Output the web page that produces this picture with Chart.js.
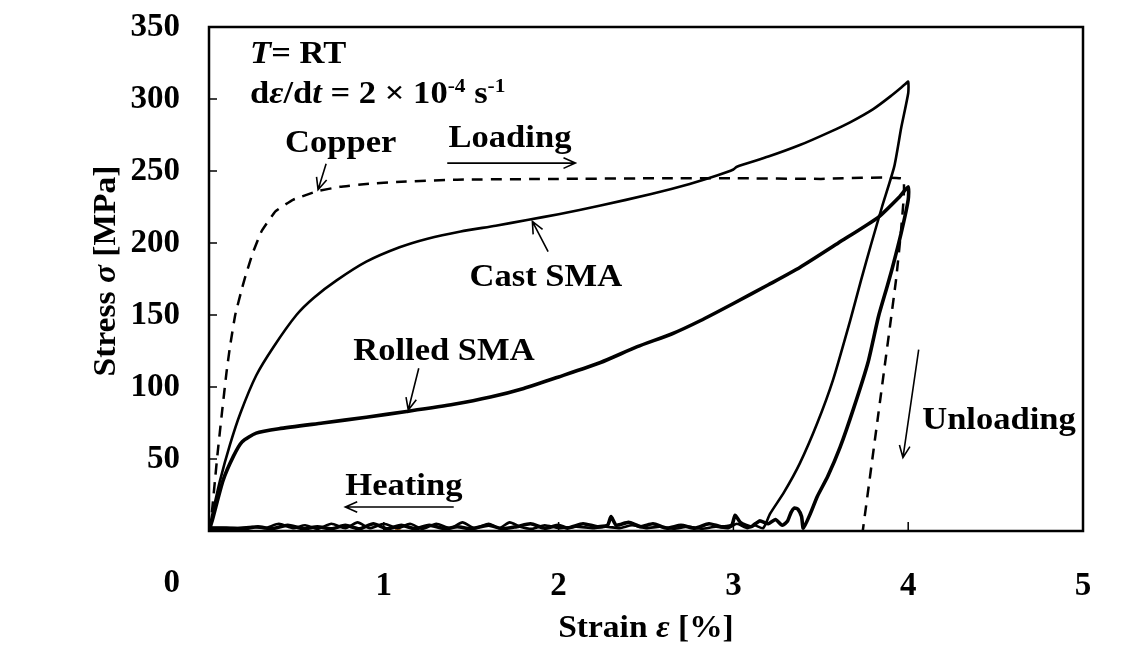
<!DOCTYPE html>
<html>
<head>
<meta charset="utf-8">
<script src="https://cdn.jsdelivr.net/npm/chart.js@4.4.1/dist/chart.umd.min.js"></script>
<style>
  body { margin: 0; background: #fff; }
  #wrap { width: 1140px; height: 647px; }
</style>
</head>
<body>
<div id="wrap"><canvas id="chart" width="1140" height="647"></canvas></div>
<script>
// Axis ticks
const strainTicks = [0, 1, 2, 3, 4, 5];
const stressTicks = [0, 50, 100, 150, 200, 250, 300, 350];

// Copper (dashed): loading then unloading
const copperStrain = [0, 0.01, 0.034, 0.05, 0.074, 0.1, 0.12, 0.15, 0.19, 0.206, 0.25, 0.30, 0.38, 0.48, 0.62, 0.75, 0.9, 1.1, 1.42, 2.0, 2.6, 3.0, 3.5, 3.97, 3.96, 3.93, 3.83, 3.74];
const copperStress = [0, 5, 35, 55, 82, 110, 128, 150, 169, 176, 193, 208, 222, 230, 236, 239, 241, 242.5, 244, 244.5, 245, 245, 244.5, 244.5, 210, 174, 82, 0];

// Cast SMA: loading, unloading, heating back to zero strain
const castStrain = [0, 0.02, 0.063, 0.12, 0.18, 0.27, 0.37, 0.5, 0.6, 0.73, 0.9, 1.09, 1.25, 1.44, 1.64, 1.82, 2.0, 2.24, 2.53, 2.75, 2.91, 3.0, 3.02, 3.2, 3.38, 3.55, 3.67, 3.8, 3.9, 3.98, 4.0,
  4.0, 3.96, 3.92, 3.85, 3.79, 3.73, 3.67, 3.57, 3.48, 3.38, 3.29, 3.21, 3.17,
  3.12, 3.08, 3.02, 2.97, 2.9, 2.82, 2.74, 2.66, 2.58, 2.5, 2.42, 2.35, 2.27, 2.2, 2.1, 2.0, 1.92, 1.85, 1.78, 1.72, 1.66, 1.6, 1.52, 1.45, 1.38, 1.3, 1.22, 1.15, 1.08, 1.0, 0.92, 0.85, 0.78, 0.7, 0.62, 0.55, 0.48, 0.4, 0.32, 0.25, 0.15, 0.05, 0];
const castStress = [0, 12, 35, 60, 82, 108, 128, 150, 162, 174, 187, 197, 203, 208, 212, 216, 220, 226, 234, 241, 247, 251, 253, 260, 268, 277, 284, 293, 302, 310, 312,
  304, 280, 253, 225, 200, 174, 147, 105, 75, 47, 27, 12, 2,
  4, 2, 5, 2, 3, 1.5, 3, 1.5, 3, 2, 4, 2, 3, 2, 3, 2, 4, 1.5, 3, 6, 2, 5, 2, 6, 2, 5, 1.5, 5, 2, 5, 2, 6, 2, 5, 1.5, 4, 2, 5, 2, 3, 2, 2, 2];

// Rolled SMA: loading, unloading, heating back to zero strain
const rolledStrain = [0, 0.02, 0.08, 0.14, 0.19, 0.27, 0.4, 0.65, 0.9, 1.13, 1.4, 1.61, 1.8, 2.0, 2.24, 2.45, 2.65, 2.81, 3.0, 3.2, 3.38, 3.6, 3.83, 3.95, 4.0,
  4.0, 3.96, 3.91, 3.88, 3.83, 3.77, 3.69, 3.61, 3.54, 3.48, 3.44, 3.40,
  3.39, 3.37, 3.35, 3.33, 3.31, 3.28, 3.24, 3.2, 3.15, 3.1, 3.04, 3.01, 2.99, 2.93, 2.86, 2.78, 2.7, 2.62, 2.54, 2.47, 2.4, 2.33, 2.3, 2.28, 2.22, 2.14, 2.05, 2.0, 1.92, 1.84, 1.76, 1.68, 1.6, 1.5, 1.42, 1.35, 1.26, 1.18, 1.1, 1.02, 0.94, 0.86, 0.78, 0.7, 0.62, 0.54, 0.45, 0.36, 0.28, 0.2, 0.1, 0];
const rolledStress = [0, 8, 35, 52, 62, 68, 71, 75, 79, 83, 88, 93, 99, 107, 117, 128, 137, 146, 158, 171, 183, 200, 218, 232, 239,
  230, 207, 183, 170, 149, 117, 86, 58, 38, 24, 12, 2,
  10, 15, 16, 13, 7, 4, 8, 5, 7, 3, 6, 11, 4, 3, 5, 2, 4, 2, 5, 3, 6, 4, 10, 4, 3, 5, 2, 4, 2, 5, 3, 1.5, 4, 1.5, 3, 1.5, 4, 1.5, 4, 1.5, 5, 1.5, 4, 1.5, 3, 1.5, 4, 1.5, 3, 1.5, 2, 2];

// stray orange marker near the origin line
const strayStrain = [1.08];
const strayStress = [0.5];

function toPoints(xs, ys) {
    return xs.map((x, i) => ({ x: x, y: ys[i] }));
}

const FONT = '"Liberation Serif", "Times New Roman", serif';
const STRETCH = 1.08; // the source text is a little wider than Liberation Serif

// draw text made of pieces: [text, style] with style 'b', 'bi' or 'sup'
function richWidth(ctx, segs, size) {
    let w = 0;
    segs.forEach(([t, st]) => {
        const sz = st === 'sup' ? size * 0.62 : size;
        ctx.font = (st === 'bi' ? 'italic ' : '') + 'bold ' + sz + 'px ' + FONT;
        w += ctx.measureText(t).width;
    });
    return w * STRETCH;
}
function drawRich(ctx, segs, x, y, size) {
    ctx.save();
    ctx.translate(x, y);
    ctx.scale(STRETCH, 1);
    let cx = 0;
    segs.forEach(([t, st]) => {
        const sz = st === 'sup' ? size * 0.62 : size;
        ctx.font = (st === 'bi' ? 'italic ' : '') + 'bold ' + sz + 'px ' + FONT;
        ctx.fillText(t, cx, st === 'sup' ? -size * 0.36 : 0);
        cx += ctx.measureText(t).width;
    });
    ctx.restore();
}

// annotation text positions in data units (left edge, baseline)
const notes = [
    { segs: [['T', 'bi'], ['= RT', 'b']], x: 0.235, y: 325 },
    { segs: [['d', 'b'], ['ε', 'bi'], ['/d', 'b'], ['t', 'bi'], [' = 2 ', 'b'], ['×', 'b'], [' 10', 'b'], ['-4', 'sup'], [' s', 'b'], ['-1', 'sup']], x: 0.235, y: 297 },
    { segs: [['Copper', 'b']], x: 0.435, y: 263 },
    { segs: [['Loading', 'b']], x: 1.37, y: 267 },
    { segs: [['Cast SMA', 'b']], x: 1.49, y: 170 },
    { segs: [['Rolled SMA', 'b']], x: 0.825, y: 119 },
    { segs: [['Heating', 'b']], x: 0.78, y: 25 },
    { segs: [['Unloading', 'b']], x: 4.08, y: 71 }
];
// arrows: tail -> head, data units
const arrows = [
    [0.67, 255, 0.624, 237],
    [1.363, 255.5, 2.096, 255.5],
    [1.94, 194, 1.85, 215],
    [1.20, 113, 1.14, 84],
    [1.40, 16.7, 0.78, 16.7],
    [4.06, 126, 3.97, 51]
];

const decorPlugin = {
    id: 'decor',
    afterDraw(chart) {
        const c = chart.ctx;
        const a = chart.chartArea;
        const xs = chart.scales.x, ys = chart.scales.y;
        c.save();
        c.strokeStyle = '#000';
        c.fillStyle = '#000';

        // inner tick marks
        c.lineWidth = 1.5;
        stressTicks.forEach(v => {
            if (v === 0 || v === 350) return;
            const py = ys.getPixelForValue(v);
            c.beginPath(); c.moveTo(a.left, py); c.lineTo(a.left + 8, py); c.stroke();
        });
        strainTicks.forEach(v => {
            if (v === 0 || v === 5) return;
            const px = xs.getPixelForValue(v);
            c.beginPath(); c.moveTo(px, a.bottom); c.lineTo(px, a.bottom - 9); c.stroke();
        });

        // frame
        c.lineWidth = 2.5;
        c.strokeRect(a.left, a.top, a.right - a.left, a.bottom - a.top);

        // "0" sits on the x label row, right aligned with the y labels
        c.font = 'bold 33px ' + FONT;
        c.textAlign = 'right';
        c.textBaseline = 'middle';
        c.fillText('0', a.left - 29, a.bottom + 52);

        // annotations
        c.textAlign = 'left';
        c.textBaseline = 'alphabetic';
        notes.forEach(n => {
            drawRich(c, n.segs, xs.getPixelForValue(n.x), ys.getPixelForValue(n.y), 32);
        });

        c.lineWidth = 1.6;
        arrows.forEach(([x0, y0, x1, y1]) => {
            const px0 = xs.getPixelForValue(x0), py0 = ys.getPixelForValue(y0);
            const px1 = xs.getPixelForValue(x1), py1 = ys.getPixelForValue(y1);
            const ang = Math.atan2(py1 - py0, px1 - px0);
            const h = 13;
            c.beginPath();
            c.moveTo(px0, py0); c.lineTo(px1, py1);
            c.moveTo(px1 - h * Math.cos(ang - 0.42), py1 - h * Math.sin(ang - 0.42));
            c.lineTo(px1, py1);
            c.lineTo(px1 - h * Math.cos(ang + 0.42), py1 - h * Math.sin(ang + 0.42));
            c.stroke();
        });

        // axis titles
        const tsize = 31;
        const xt = [['Strain ', 'b'], ['ε', 'bi'], [' [%]', 'b']];
        const wx = richWidth(c, xt, tsize);
        drawRich(c, xt, (a.left + a.right) / 2 - wx / 2, 637, tsize);

        const yt = [['Stress ', 'b'], ['σ', 'bi'], [' [MPa]', 'b']];
        const wy = richWidth(c, yt, tsize);
        c.translate(115, 271);
        c.rotate(-Math.PI / 2);
        drawRich(c, yt, -wy / 2, 0, tsize);
        c.restore();
    }
};

// keep the axes from reserving extra room for their end labels
function noEdgePadding(s) {
    s.paddingTop = 0;
    s.paddingBottom = 0;
    s.paddingLeft = 0;
    s.paddingRight = 0;
}

document.addEventListener('DOMContentLoaded', function() {
    const ctx = document.getElementById('chart').getContext('2d');

    const chartData = {
        datasets: [{
            label: 'Copper',
            data: toPoints(copperStrain, copperStress),
            borderColor: '#000',
            borderWidth: 2.5,
            borderDash: [11, 8],
            pointRadius: 0,
            showLine: true,
            tension: 0.1
        },
        {
            label: 'Cast SMA',
            data: toPoints(castStrain, castStress),
            borderColor: '#000',
            borderWidth: 2.6,
            pointRadius: 0,
            showLine: true,
            tension: 0.2
        },
        {
            label: 'Rolled SMA',
            data: toPoints(rolledStrain, rolledStress),
            borderColor: '#000',
            borderWidth: 3.6,
            pointRadius: 0,
            showLine: true,
            tension: 0.2
        },
        {
            label: 'stray',
            data: toPoints(strayStrain, strayStress),
            backgroundColor: '#e8862e',
            borderColor: '#e8862e',
            pointRadius: 2.5,
            showLine: false
        }]
    };

    const config = {
        type: 'scatter',
        data: chartData,
        plugins: [decorPlugin],
        options: {
            responsive: false,
            animation: false,
            devicePixelRatio: 1,
            layout: {
                padding: { left: 87, right: 57, top: 27, bottom: 5 }
            },
            plugins: {
                legend: { display: false },
                tooltip: { enabled: false }
            },
            scales: {
                x: {
                    type: 'linear',
                    min: 0,
                    max: 5,
                    afterFit: s => { s.height = 111; noEdgePadding(s); },
                    afterBuildTicks: s => { s.ticks = strainTicks.map(v => ({ value: v })); },
                    grid: { display: false, drawTicks: false },
                    border: { display: false },
                    ticks: {
                        padding: 36,
                        color: '#000',
                        font: { family: FONT, size: 33, weight: 'bold' },
                        callback: v => (v === 0 ? '' : v)
                    }
                },
                y: {
                    min: 0,
                    max: 350,
                    afterFit: s => { s.width = 122; noEdgePadding(s); },
                    afterBuildTicks: s => { s.ticks = stressTicks.map(v => ({ value: v })); },
                    grid: { display: false, drawTicks: false },
                    border: { display: false },
                    ticks: {
                        padding: 29,
                        color: '#000',
                        font: { family: FONT, size: 33, weight: 'bold' },
                        callback: v => (v === 0 ? '' : v)
                    }
                }
            }
        }
    };

    new Chart(ctx, config);
});
</script>
</body>
</html>
